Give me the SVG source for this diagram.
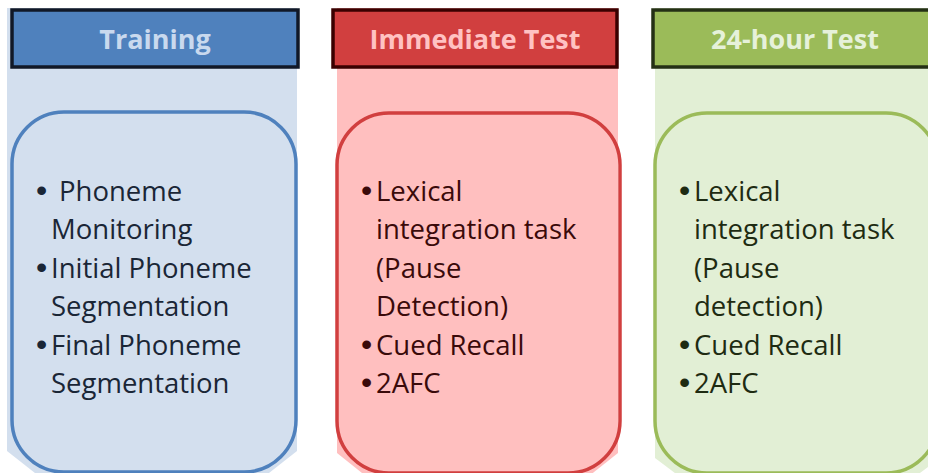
<svg xmlns="http://www.w3.org/2000/svg" width="928" height="473" viewBox="0 0 928 473">
<style>
.hdr{font-family:"Open Sans","Liberation Sans",sans-serif;font-weight:bold;font-size:27px;text-anchor:middle}
.body{font-family:"Open Sans","Liberation Sans",sans-serif;font-size:27.5px}
.bul{font-family:"Liberation Sans",Arial,sans-serif;font-size:32px}
.hbox{stroke-width:3.5}
.card{fill:none;stroke-width:3.5}
</style>
<rect width="928" height="473" fill="#ffffff"/>
<g id="training">
<polygon points="7,8 297,8 297,451 152,565 7,451" fill="#D3DFEE"/>
<rect class="hbox" x="12" y="10" width="286" height="57" fill="#4F81BD" stroke="#111827"/>
<text class="hdr" x="155" y="49" fill="#C9D9EE">Training</text>
<rect class="card" x="12" y="112" width="284" height="360" rx="52" stroke="#4F81BD"/>
<g fill="#1A2636">
<g class="bul"><text x="36" y="201">•</text><text x="36" y="278">•</text><text x="36" y="355">•</text></g>
<g class="body">
<text x="59" y="201">Phoneme</text>
<text x="51" y="239">Monitoring</text>
<text x="51" y="278">Initial Phoneme</text>
<text x="51" y="316">Segmentation</text>
<text x="51" y="355">Final Phoneme</text>
<text x="51" y="393">Segmentation</text>
</g>
</g>
</g>
<g id="immediate-test">
<polygon points="337,8 618,8 618,453 477,565 337,453" fill="#FFBFBF"/>
<rect class="hbox" x="333" y="10" width="284" height="57" fill="#D13F3F" stroke="#3A0000"/>
<text class="hdr" x="475" y="49" fill="#FFC2C2">Immediate Test</text>
<rect class="card" x="337" y="113" width="283" height="360" rx="52" stroke="#D13F3F"/>
<g fill="#3A0A0A">
<g class="bul"><text x="361" y="201">•</text><text x="361" y="355">•</text><text x="361" y="393">•</text></g>
<g class="body">
<text x="376" y="201">Lexical</text>
<text x="376" y="239">integration task</text>
<text x="376" y="278">(Pause</text>
<text x="376" y="316">Detection)</text>
<text x="376" y="355">Cued Recall</text>
<text x="376" y="393">2AFC</text>
</g>
</g>
</g>
<g id="test-24-hour">
<polygon points="655,8 940,8 940,458 797,565 655,458" fill="#E2EFD5"/>
<rect class="hbox" x="653" y="10" width="290" height="57" fill="#9BBB59" stroke="#243015"/>
<text class="hdr" x="795" y="49" fill="#E6F1DA">24-hour Test</text>
<rect class="card" x="655" y="113" width="283" height="360" rx="52" stroke="#9BBB59"/>
<g fill="#1E2B12">
<g class="bul"><text x="679" y="201">•</text><text x="679" y="355">•</text><text x="679" y="393">•</text></g>
<g class="body">
<text x="694" y="201">Lexical</text>
<text x="694" y="239">integration task</text>
<text x="694" y="278">(Pause</text>
<text x="694" y="316">detection)</text>
<text x="694" y="355">Cued Recall</text>
<text x="694" y="393">2AFC</text>
</g>
</g>
</g>
</svg>
